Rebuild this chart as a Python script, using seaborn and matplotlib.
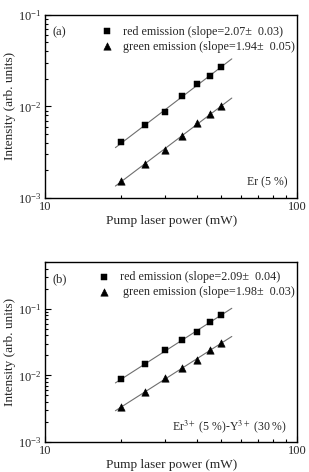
import matplotlib
matplotlib.use("Agg")
import matplotlib.pyplot as plt
import matplotlib.ticker as mticker
import numpy as np
import pandas as pd
import seaborn as sns

# pump power (mW)
power = [20, 25, 30, 35, 40, 45, 50]

# panel (a): Er (5 %)
red_a = [4.06e-3, 6.23e-3, 8.77e-3, 1.29e-2, 1.77e-2, 2.17e-2, 2.68e-2]
green_a = [1.55e-3, 2.35e-3, 3.32e-3, 4.8e-3, 6.65e-3, 8.2e-3, 1.0e-2]

# panel (b): Er (5 %) - Y (30 %)
red_b = [8.7e-3, 1.48e-2, 2.42e-2, 3.37e-2, 4.54e-2, 6.3e-2, 8.1e-2]
green_b = [3.37e-3, 5.57e-3, 9.1e-3, 1.29e-2, 1.71e-2, 2.39e-2, 3.08e-2]

labels_a = ["red emission (slope=2.07\u00b1  0.03)",
            "green emission (slope=1.94\u00b1  0.05)"]
labels_b = ["red emission (slope=2.09\u00b1  0.04)",
            " green emission (slope=1.98\u00b1  0.03)"]

fit_range = [19, 55]

sns.set_style("ticks")
plt.rcParams['font.family'] = ['Liberation Serif', 'DejaVu Serif']
plt.rcParams['mathtext.fontset'] = 'stix'


def fit_line(x, y):
    k, b = np.polyfit(np.log10(x), np.log10(y), 1)
    xf = np.array(fit_range, dtype=float)
    return pd.DataFrame({'x': xf, 'y': 10 ** (b + k * np.log10(xf))})


def panel(ax, red, green, labels, ylim, tag, note, leg_y):
    for vals in (red, green):
        f = fit_line(power, vals)
        sns.lineplot(data=f, x='x', y='y', ax=ax, color='#6e6e6e',
                     linewidth=0.8, legend=False)
    df_r = pd.DataFrame({'x': power, 'y': red})
    df_g = pd.DataFrame({'x': power, 'y': green})
    sns.scatterplot(data=df_r, x='x', y='y', ax=ax, marker='s', s=18,
                    color='black', edgecolor='black', label=labels[0], zorder=3)
    sns.scatterplot(data=df_g, x='x', y='y', ax=ax, marker='^', s=28,
                    color='black', edgecolor='black', label=labels[1], zorder=3)
    ax.set_xscale('log')
    ax.set_yscale('log')
    ax.set_xlim(10, 100)
    ax.set_ylim(*ylim)
    ax.xaxis.set_major_locator(mticker.FixedLocator([10, 100]))
    ax.xaxis.set_major_formatter(mticker.FixedFormatter(['10', '100']))
    ax.xaxis.set_minor_locator(mticker.LogLocator(subs=np.arange(2, 10)))
    ax.xaxis.set_minor_formatter(mticker.NullFormatter())
    ax.yaxis.set_major_locator(mticker.FixedLocator([1e-3, 1e-2, 1e-1]))
    ax.yaxis.set_minor_formatter(mticker.NullFormatter())
    ax.tick_params(which='both', direction='in', top=False, right=False,
                   labelsize=9, width=0.8, color='black', pad=2.5)
    ax.tick_params(which='major', length=4)
    ax.tick_params(which='minor', length=2)
    for sp in ax.spines.values():
        sp.set_linewidth(1.0)
        sp.set_color('black')
    ax.set_xlabel('Pump laser power (mW)', fontsize=9.5, labelpad=1)
    ax.set_ylabel('Intensity (arb. units)', fontsize=9.5)
    ax.yaxis.set_label_coords(-0.115, 0.5)
    ax.legend(loc='upper right', bbox_to_anchor=(1.0, leg_y), frameon=False,
              fontsize=8.7, borderaxespad=0.2, borderpad=0, handletextpad=0.8,
              labelspacing=0.25, handlelength=1.0, markerscale=1.0)
    ax.text(0.03, 0.905, tag, transform=ax.transAxes, fontsize=9,
            va='center', ha='left')
    ax.text(0.96, 0.085, note, transform=ax.transAxes, fontsize=8.5,
            va='center', ha='right')


fig = plt.figure(figsize=(3.09, 4.72), dpi=100)
ax_a = fig.add_axes([0.146, 0.5805, 0.816, 0.388])
ax_b = fig.add_axes([0.146, 0.0636, 0.816, 0.381])

panel(ax_a, red_a, green_a, labels_a, (1e-3, 1e-1), '(a)', 'Er (5 %)', 0.955)
panel(ax_b, red_b, green_b, labels_b, (1e-3, 0.5), '(b)',
      'Er$^{3+}$ (5 %)-Y$^{3+}$ (30 %)', 0.965)

fig.savefig('out.png', dpi=100)
